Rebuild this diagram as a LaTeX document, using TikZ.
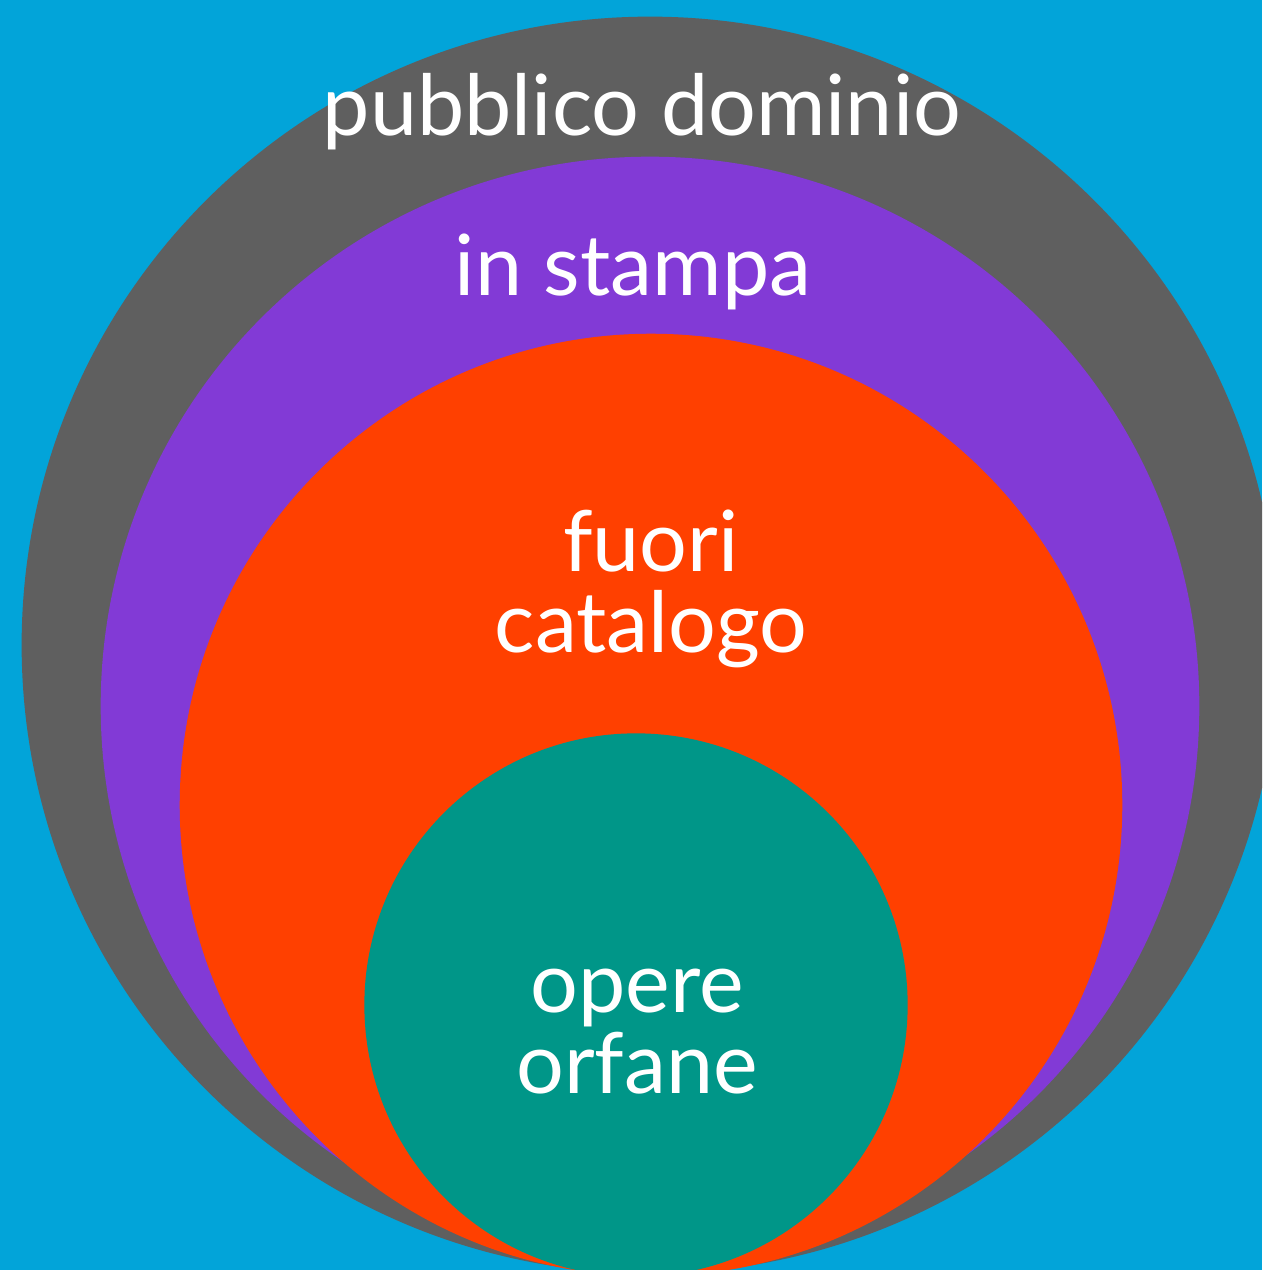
\documentclass[tikz,border=0pt]{standalone}
\usepackage{fontspec}
\setmainfont{Lato}
\usetikzlibrary{positioning}

\definecolor{skyblue}{HTML}{02A4D9}
\definecolor{domgray}{HTML}{5F5F5F}
\definecolor{stampurple}{HTML}{823AD6}
\definecolor{fuorired}{HTML}{FF4000}
\definecolor{orfteal}{HTML}{009688}

\begin{document}
\begin{tikzpicture}[x=0.01cm,y=-0.01cm,% 1 unit = 1 pixel, y downwards
        label text/.style={text=white,inner sep=0pt,align=center,
                font=\fontsize{24}{22.8}\selectfont}]
\useasboundingbox (0,0) rectangle (1262,1270);
\clip (0,0) rectangle (1262,1270);
\fill[skyblue] (0,0) rectangle (1262,1270);

% nested sets, outer to inner
\fill[domgray] (650,645) circle (6.28cm);
\fill[stampurple] (650,706) circle (5.49cm);
\fill[fuorired] (651,805) circle (4.71cm);
\fill[orfteal] (636,1005) circle (2.715cm);

% base of a two-line node = baseline of its last line
\node[label text,anchor=base] (dominio) at (642,136) {pubblico dominio};
\node[label text,anchor=base] (stampa) at (633,296) {in stampa};
\node[label text,anchor=base] (fuori) at (651,652) {fuori\\catalogo};
\node[label text,anchor=base] (orfane) at (637,1093) {opere\\orfane};

\end{tikzpicture}
\end{document}
